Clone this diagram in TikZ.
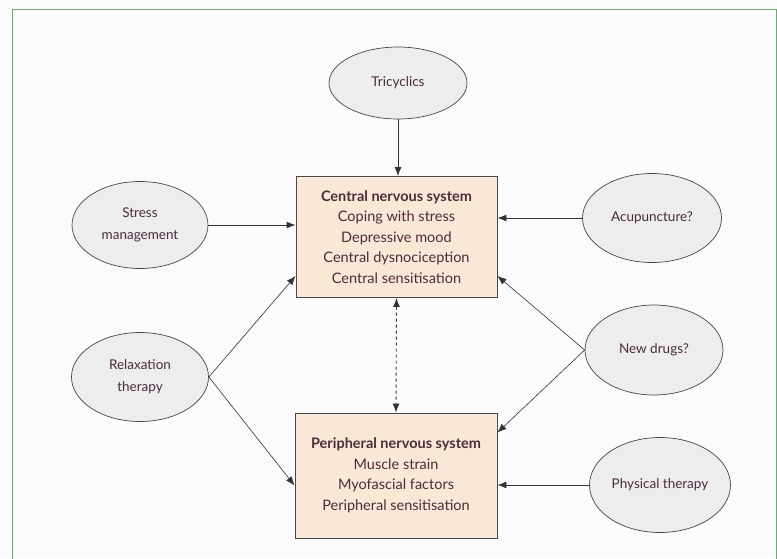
\documentclass[tikz,border=0pt]{standalone}
\usepackage{fontspec}
\setmainfont{Lato}
\usetikzlibrary{shapes.geometric,arrows.meta}
\definecolor{frame}{HTML}{6DAA6D}
\definecolor{boxfill}{HTML}{FAE8D6}
\definecolor{ellfill}{HTML}{EDEDED}
\definecolor{txt}{HTML}{4A2C3C}
\definecolor{arrc}{HTML}{333333}
\tikzset{
  oval/.style={ellipse, draw=gray!55!black, line width=0.7pt, fill=ellfill, inner sep=0pt,
    text=txt, align=center, font=\fontsize{13.5}{22}\selectfont},
  sysbox/.style={rectangle, draw=arrc!90, line width=0.9pt, fill=boxfill, inner sep=0pt,
    text=txt, align=center, font=\fontsize{14.5}{20.5}\selectfont},
  arr/.style={draw=arrc, line width=0.9pt, -{Latex[length=9pt,width=7pt]}},
  thin arr/.style={draw=arrc, line width=0.6pt, -{Latex[length=9pt,width=7pt]}},
}
\begin{document}
\begin{tikzpicture}[x=1pt,y=-1pt]
\useasboundingbox (0,0) rectangle (777,558);
\fill[white!97!gray] (0,0) rectangle (777,558);
\draw[frame, line width=0.8pt] (12,600) -- (12,9) -- (776,9) -- (776,600);

\node[sysbox, minimum width=201pt, minimum height=121pt] (cns) at (396.5,237)
  {\textbf{Central nervous system}\\Coping with stress\\Depressive mood\\Central dysnociception\\Central sensitisation};
\node[sysbox, minimum width=202pt, minimum height=125pt] (pns) at (396,475.5)
  {\textbf{Peripheral nervous system}\\Muscle strain\\Myofascial factors\\Peripheral sensitisation};

\node[oval, minimum width=138pt, minimum height=72pt] (tri) at (398,83) {Tricyclics};
\node[oval, minimum width=136pt, minimum height=87pt] (stress) at (140,225) {Stress\\management};
\node[oval, minimum width=137pt, minimum height=89pt] (relax) at (140,377) {Relaxation\\therapy};
\node[oval, minimum width=139pt, minimum height=89pt] (acu) at (652,218) {Acupuncture?};
\node[oval, minimum width=138pt, minimum height=90pt] (new) at (654,350) {New drugs?};
\node[oval, minimum width=141pt, minimum height=95pt] (phys) at (660,485) {Physical therapy};

\draw[arr] (tri.south) -- (tri.south |- cns.north);
\draw[arr] (stress.east) -- (stress.east -| cns.west);
\draw[arr] (acu.west) -- (acu.west -| cns.east);
\draw[arr] (phys.west) -- (phys.west -| pns.east);
\draw[thin arr] (relax.east) -- ([yshift=22pt]cns.south west);
\draw[thin arr] (relax.east) -- ([yshift=-10pt]pns.west);
\draw[thin arr] (new.west) -- ([yshift=22pt]cns.south east);
\draw[thin arr] (new.west) -- ([yshift=-20pt]pns.north east);
\draw[draw=arrc, line width=0.9pt, dashed, {Latex[length=9pt,width=7pt]}-{Latex[length=9pt,width=7pt]}] (cns.south) -- (pns.north);
\end{tikzpicture}
\end{document}
